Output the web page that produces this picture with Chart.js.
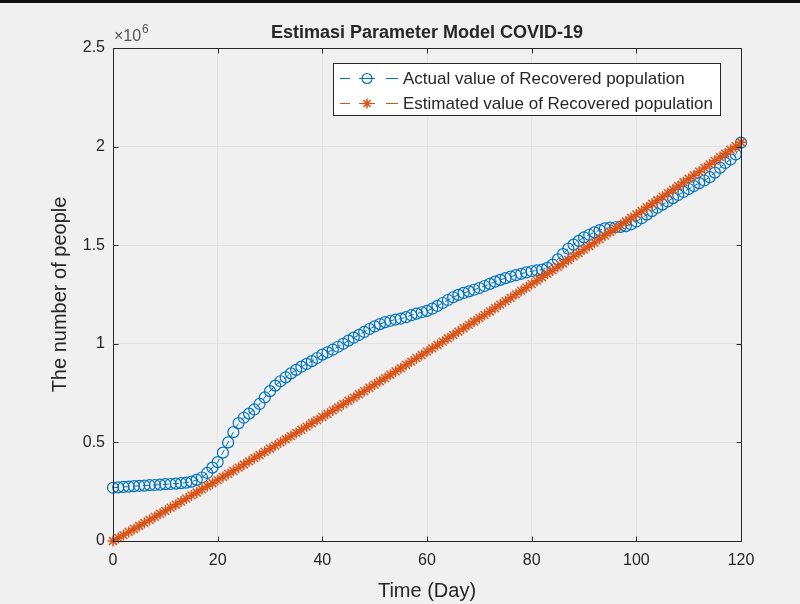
<!DOCTYPE html>
<html>
<head>
<meta charset="utf-8">
<title>Estimasi Parameter Model COVID-19</title>
<script src="https://cdn.jsdelivr.net/npm/chart.js"></script>
<style>
    body { margin: 0; background: #f0f0f0; }
    #wrap { position: relative; width: 800px; height: 604px; background: #f0f0f0; }
    #topbar { position: absolute; left: 0; top: 0; width: 800px; height: 3px; background: #111; }
    canvas { position: absolute; left: 0; top: 0; }
</style>
</head>
<body>
<div id="wrap">
    <canvas id="chart" width="800" height="604"></canvas>
    <div id="topbar"></div>
</div>
<script>
// values are in units of 10^6 people
const days = [
    0, 1, 2, 3, 4, 5, 6, 7, 8, 9, 10, 11, 12, 13, 14, 15, 16, 17, 18, 19,
    20, 21, 22, 23, 24, 25, 26, 27, 28, 29, 30, 31, 32, 33, 34, 35, 36, 37, 38, 39,
    40, 41, 42, 43, 44, 45, 46, 47, 48, 49, 50, 51, 52, 53, 54, 55, 56, 57, 58, 59,
    60, 61, 62, 63, 64, 65, 66, 67, 68, 69, 70, 71, 72, 73, 74, 75, 76, 77, 78, 79,
    80, 81, 82, 83, 84, 85, 86, 87, 88, 89, 90, 91, 92, 93, 94, 95, 96, 97, 98, 99,
    100, 101, 102, 103, 104, 105, 106, 107, 108, 109, 110, 111, 112, 113, 114, 115, 116, 117, 118, 119,
    120
];
const actualRecovered = [
    0.270, 0.272, 0.274, 0.276, 0.278, 0.280, 0.281, 0.283, 0.284, 0.286,
    0.288, 0.289, 0.291, 0.293, 0.296, 0.301, 0.310, 0.322, 0.345, 0.372,
    0.400, 0.448, 0.500, 0.552, 0.598, 0.625, 0.646, 0.667, 0.695, 0.728,
    0.760, 0.788, 0.810, 0.830, 0.850, 0.868, 0.884, 0.898, 0.912, 0.928,
    0.945, 0.957, 0.970, 0.985, 1.000, 1.016, 1.031, 1.045, 1.060, 1.075,
    1.088, 1.100, 1.110, 1.117, 1.123, 1.128, 1.135, 1.145, 1.153, 1.160,
    1.167, 1.178, 1.192, 1.207, 1.222, 1.236, 1.248, 1.258, 1.266, 1.274,
    1.283, 1.293, 1.304, 1.315, 1.324, 1.333, 1.341, 1.348, 1.355, 1.362,
    1.368, 1.372, 1.376, 1.385, 1.402, 1.428, 1.455, 1.482, 1.503, 1.522,
    1.540, 1.553, 1.565, 1.576, 1.585, 1.589, 1.591, 1.593, 1.597, 1.606,
    1.620, 1.637, 1.655, 1.673, 1.690, 1.706, 1.722, 1.739, 1.755, 1.770,
    1.785, 1.800, 1.815, 1.828, 1.845, 1.868, 1.893, 1.917, 1.935, 1.960,
    2.020
];
const estimatedRecovered = [
    0.000, 0.015, 0.030, 0.046, 0.061, 0.076, 0.092, 0.107, 0.122, 0.138,
    0.153, 0.169, 0.184, 0.200, 0.215, 0.231, 0.246, 0.262, 0.278, 0.293,
    0.309, 0.325, 0.340, 0.356, 0.372, 0.388, 0.404, 0.420, 0.436, 0.452,
    0.468, 0.484, 0.500, 0.516, 0.532, 0.548, 0.564, 0.580, 0.597, 0.613,
    0.629, 0.645, 0.662, 0.678, 0.694, 0.711, 0.727, 0.744, 0.760, 0.777,
    0.793, 0.810, 0.826, 0.843, 0.860, 0.876, 0.893, 0.910, 0.927, 0.943,
    0.960, 0.977, 0.994, 1.011, 1.028, 1.045, 1.062, 1.079, 1.096, 1.113,
    1.130, 1.147, 1.164, 1.181, 1.199, 1.216, 1.233, 1.251, 1.268, 1.285,
    1.303, 1.320, 1.337, 1.355, 1.372, 1.390, 1.407, 1.425, 1.443, 1.460,
    1.478, 1.496, 1.513, 1.531, 1.549, 1.567, 1.584, 1.602, 1.620, 1.638,
    1.656, 1.674, 1.692, 1.710, 1.728, 1.746, 1.764, 1.782, 1.800, 1.819,
    1.837, 1.855, 1.873, 1.892, 1.910, 1.928, 1.947, 1.965, 1.984, 2.002,
    2.022
];
const xTicks = [0, 20, 40, 60, 80, 100, 120];
const yTicks = [0, 0.5, 1, 1.5, 2, 2.5];

const titleText = 'Estimasi Parameter Model COVID-19';
const xLabel = 'Time (Day)';
const yLabel = 'The number of people';
const seriesNames = ['Actual value of Recovered population', 'Estimated value of Recovered population'];

const blue = '#0072BD';
const orange = '#D95319';
const axisColor = '#262626';
const fontFamily = '"Liberation Sans", Arial, Helvetica, sans-serif';

function toPoints(values) {
    return days.map((d, i) => ({ x: d, y: values[i] }));
}

function drawMarker(ctx, style, x, y, r, color, width) {
    ctx.save();
    ctx.strokeStyle = color;
    ctx.lineWidth = width;
    ctx.beginPath();
    if (style === 'circle') {
        ctx.arc(x, y, r, 0, Math.PI * 2);
    } else {
        for (let k = 0; k < 4; k++) {
            const a = k * Math.PI / 4;
            ctx.moveTo(x - Math.cos(a) * r, y - Math.sin(a) * r);
            ctx.lineTo(x + Math.cos(a) * r, y + Math.sin(a) * r);
        }
    }
    ctx.stroke();
    ctx.restore();
}

// MATLAB-like box, inward ticks, texts and legend
const matlabLook = {
    id: 'matlabLook',
    afterDatasetsDraw(chart) {
        const ctx = chart.ctx;
        const area = chart.chartArea;
        const xs = chart.scales.x;
        const ys = chart.scales.y;
        const l = Math.round(area.left) + 0.5;
        const r = Math.round(area.right) + 0.5;
        const t = Math.round(area.top) + 0.5;
        const b = Math.round(area.bottom) + 0.5;
        const tick = 5;

        ctx.save();
        ctx.strokeStyle = axisColor;
        ctx.lineWidth = 1;
        ctx.strokeRect(l, t, r - l, b - t);
        ctx.beginPath();
        for (const v of xTicks) {
            const px = Math.round(xs.getPixelForValue(v)) + 0.5;
            ctx.moveTo(px, b); ctx.lineTo(px, b - tick);
            ctx.moveTo(px, t); ctx.lineTo(px, t + tick);
        }
        for (const v of yTicks) {
            const py = Math.round(ys.getPixelForValue(v)) + 0.5;
            ctx.moveTo(l, py); ctx.lineTo(l + tick, py);
            ctx.moveTo(r, py); ctx.lineTo(r - tick, py);
        }
        ctx.stroke();

        // title, axis labels, exponent
        ctx.fillStyle = axisColor;
        ctx.textAlign = 'center';
        ctx.textBaseline = 'middle';
        ctx.font = 'bold 18px ' + fontFamily;
        ctx.fillText(titleText, (area.left + area.right) / 2, 33);
        ctx.font = '20px ' + fontFamily;
        ctx.fillText(xLabel, (area.left + area.right) / 2, 591);
        ctx.save();
        ctx.translate(60, (area.top + area.bottom) / 2);
        ctx.rotate(-Math.PI / 2);
        ctx.fillText(yLabel, 0, 0);
        ctx.restore();
        ctx.textAlign = 'left';
        ctx.fillStyle = '#555';
        ctx.font = '16px ' + fontFamily;
        ctx.fillText('\u00d710', area.left + 1, 37);
        ctx.font = '12px ' + fontFamily;
        ctx.fillText('6', area.left + 29, 30);

        // legend
        const lx = 333.5, ly = 63.5, lw = 387, lh = 52;
        ctx.fillStyle = '#ffffff';
        ctx.fillRect(lx, ly, lw, lh);
        ctx.strokeStyle = axisColor;
        ctx.strokeRect(lx, ly, lw, lh);
        const rows = [
            { name: seriesNames[0], color: blue, style: 'circle', r: 5, w: 1.2 },
            { name: seriesNames[1], color: orange, style: 'star', r: 5, w: 1.5 }
        ];
        ctx.font = '17px ' + fontFamily;
        rows.forEach((row, i) => {
            const y = ly + 15 + i * 25;
            ctx.strokeStyle = row.color;
            ctx.lineWidth = 1;
            ctx.beginPath();
            ctx.moveTo(340, y); ctx.lineTo(350, y);
            ctx.moveTo(386, y); ctx.lineTo(398, y);
            ctx.moveTo(359, y); ctx.lineTo(375, y);
            ctx.stroke();
            drawMarker(ctx, row.style, 367, y, row.r, row.color, row.w);
            ctx.fillStyle = axisColor;
            ctx.fillText(row.name, 403, y + 1);
        });
        ctx.restore();
    }
};

const chart = new Chart(document.getElementById('chart'), {
    type: 'line',
    data: {
        datasets: [
            {
                label: seriesNames[0],
                data: toPoints(actualRecovered),
                borderColor: blue,
                backgroundColor: 'rgba(0,0,0,0)',
                borderWidth: 1,
                borderDash: [6, 4],
                pointStyle: 'circle',
                pointRadius: 5.5,
                pointBorderWidth: 1.2,
                pointBorderColor: blue,
                pointBackgroundColor: 'rgba(0,0,0,0)',
                fill: false,
                order: 1
            },
            {
                label: seriesNames[1],
                data: toPoints(estimatedRecovered),
                borderColor: orange,
                backgroundColor: 'rgba(0,0,0,0)',
                borderWidth: 1,
                borderDash: [6, 4],
                pointStyle: 'star',
                pointRadius: 5.5,
                pointBorderWidth: 1.5,
                pointBorderColor: orange,
                pointBackgroundColor: 'rgba(0,0,0,0)',
                fill: false,
                order: 0
            }
        ]
    },
    options: {
        responsive: false,
        animation: false,
        clip: false,
        layout: { padding: { top: 48, right: 59, bottom: 0, left: 0 } },
        plugins: {
            legend: { display: false },
            title: { display: false },
            tooltip: { enabled: false }
        },
        scales: {
            x: {
                type: 'linear',
                min: 0,
                max: 120,
                afterFit: (s) => { s.height = 63; },
                afterBuildTicks: (s) => { s.ticks = xTicks.map(v => ({ value: v })); },
                grid: { color: '#e2e2e2', drawTicks: false },
                border: { display: false },
                ticks: { color: axisColor, padding: 10, font: { family: fontFamily, size: 16 }, maxRotation: 0, callback: (v) => String(v) }
            },
            y: {
                type: 'linear',
                min: 0,
                max: 2.5,
                afterFit: (s) => { s.width = 113; },
                afterBuildTicks: (s) => { s.ticks = yTicks.map(v => ({ value: v })); },
                grid: { color: '#e2e2e2', drawTicks: false },
                border: { display: false },
                ticks: { color: axisColor, padding: 8, font: { family: fontFamily, size: 16 }, callback: (v) => String(v) }
            }
        }
    },
    plugins: [matlabLook]
});
</script>
</body>
</html>
